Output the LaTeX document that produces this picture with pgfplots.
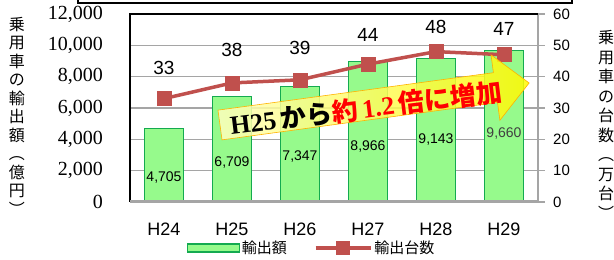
\documentclass[border=0pt]{standalone}
\usepackage{pgfplots}
\pgfplotsset{compat=1.18}
\usepackage{fontspec}
\setmainfont{Liberation Serif}
\newfontfamily\sansf{Liberation Sans}
\newfontfamily\jp{Noto Sans CJK JP}
\definecolor{barfill}{RGB}{150,250,140}
\definecolor{bardraw}{RGB}{20,170,80}
\definecolor{linered}{RGB}{192,80,77}
\definecolor{gridgray}{RGB}{165,165,165}
\begin{document}
\begin{tikzpicture}
\useasboundingbox (-130pt,-58pt) rectangle (484pt,202pt);
\begin{axis}[
  scale only axis, width=408pt, height=188pt,
  xmin=-0.5, xmax=5.5, ymin=0, ymax=12000,
  ybar, bar width=39pt,
  axis line style={draw=none},
  major tick length=0pt,
  scaled y ticks=false,
  xtick={0,1,2,3,4,5},
  xticklabels={H24,H25,H26,H27,H28,H29},
  xticklabel style={font=\sansf\fontsize{18}{18}\selectfont, anchor=base, inner sep=0pt, yshift=-33.5pt},
  ytick={0,2000,4000,6000,8000,10000,12000},
  yticklabel style={font=\fontsize{20}{20}\selectfont, anchor=east, inner sep=0pt, xshift=-27pt},
  /pgf/number format/.cd, 1000 sep={,}, assume math mode=true, /pgfplots/.cd,
  ymajorgrids, grid style={gridgray, line width=1.5pt},
]
\addplot[fill=barfill, draw=bardraw, line width=1.2pt] coordinates {(0,4705) (1,6709) (2,7347) (3,8966) (4,9143) (5,9660)};
\begin{scope}[every node/.style={font=\sansf\fontsize{14}{14}\selectfont, inner sep=0pt}]
\node at (axis cs:0,1532) {4,705};
\node at (axis cs:1,2489) {6,709};
\node at (axis cs:2,2872) {7,347};
\node at (axis cs:3,3511) {8,966};
\node at (axis cs:4,3957) {9,143};
\node[text=black!75] at (axis cs:5,4340) {9,660};
\end{scope}
\end{axis}
\begin{axis}[
  scale only axis, width=408pt, height=188pt,
  xmin=-0.5, xmax=5.5, ymin=0, ymax=60,
  axis y line*=right, axis x line=none,
  axis line style={gridgray, line width=1.5pt},
  ytick={0,10,20,30,40,50,60},
  tick align=outside, major tick length=7pt,
  tick style={gridgray, line width=1.5pt},
  yticklabel style={font=\sansf\fontsize{15}{15}\selectfont, anchor=west, inner sep=0pt, xshift=8pt},
  /pgf/number format/assume math mode=true,
  legend style={at={(0.445,-0.245)}, anchor=center, draw=none, fill=none, font=\jp\fontsize{15}{15}\selectfont, legend columns=2,
    /tikz/every even column/.append style={column sep=25pt}},
]
\addlegendimage{legend image code/.code={\draw[fill=barfill, draw=bardraw, line width=1.2pt] (0pt,-4pt) rectangle (52pt,4pt);}}
\addlegendentry{輸出額}
\addplot[linered, line width=3.5pt, mark=square*, mark size=7pt, mark options={solid, fill=linered, draw=linered, line width=0.5pt},
  legend image code/.code={\draw[linered, line width=3.5pt] (0pt,0pt) -- (55pt,0pt); \fill[linered] (22pt,-5pt) rectangle (33pt,5pt);}]
  coordinates {(0,33) (1,38) (2,39) (3,44) (4,48) (5,47)};
\addlegendentry{輸出台数}
\begin{scope}[every node/.style={font=\sansf\fontsize{19}{19}\selectfont, inner sep=0pt}]
\node at (axis cs:0,42.8) {33};
\node at (axis cs:1,48.5) {38};
\node at (axis cs:2,49.2) {39};
\node at (axis cs:3,53.3) {44};
\node at (axis cs:4,55.9) {48};
\node at (axis cs:5,55.2) {47};
\end{scope}
\end{axis}
% frame
\draw[black, line width=1.5pt] (0pt,0pt) -- (0pt,188pt) -- (408pt,188pt);
\draw[gridgray, line width=3pt] (0pt,0pt) -- (408pt,0pt);
\draw[black, line width=1.2pt] (-52pt,215pt) -- (-52pt,199pt) -- (442pt,199pt) -- (442pt,215pt);
% arrow
\begin{scope}[shift={(90pt,77pt)}, rotate=7.74]
\shade[left color=yellow!25, right color=yellow!95!orange, fill opacity=0.85, draw=orange!60!yellow, line width=0.6pt]
  (0pt,-15pt) -- (278pt,-15pt) -- (278pt,-33pt) -- (312pt,0pt) -- (278pt,33pt) -- (278pt,15pt) -- (0pt,15pt) -- cycle;
\end{scope}
\node[rotate=7, inner sep=0pt] at (236pt,94pt) {\fontsize{26}{26}\selectfont\bfseries H25\,{\jp\bfseries から}\textcolor{red}{{\jp\bfseries 約}\,1.2\,{\jp\bfseries 倍に増加}}};
% axis titles
\node[font=\jp\fontsize{16}{18.5}\selectfont, align=center, inner sep=0pt] at (-113pt,86pt) {乗\\用\\車\\の\\輸\\出\\額\\︵\\億\\円\\︶};
\node[font=\jp\fontsize{16}{19.5}\selectfont, align=center, inner sep=0pt] at (476pt,77pt) {乗\\用\\車\\の\\台\\数\\︵\\万\\台\\︶};
\end{tikzpicture}
\end{document}
